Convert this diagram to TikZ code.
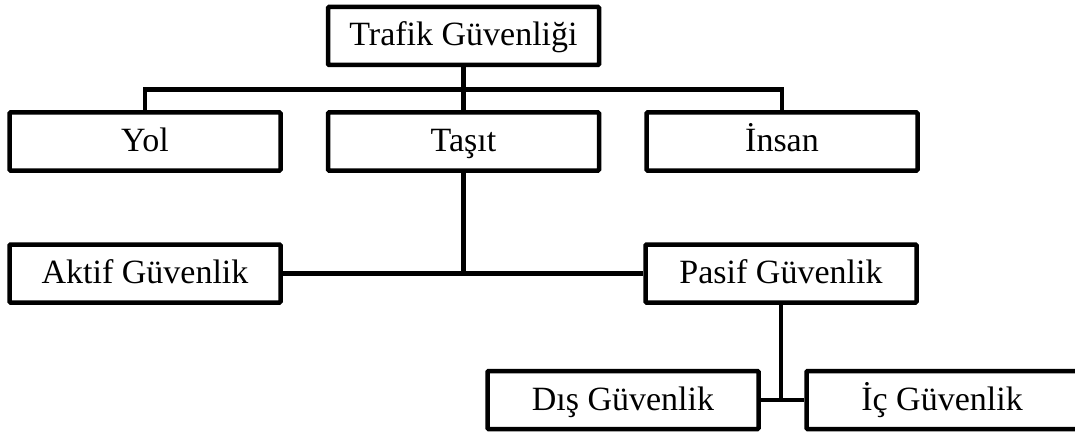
\documentclass[tikz,border=0pt]{standalone}
\usepackage{fontspec}
\setmainfont{Liberation Serif}
\usepackage{tikz}

\begin{document}
\begin{tikzpicture}[x=1pt, y=-1pt,
						every node/.style={draw, line width=4.5pt, rounded corners=1pt,
							minimum width=271pt, minimum height=58pt, inner sep=0pt,
							text height=25pt, text depth=5pt,
							font=\fontsize{34}{40}\selectfont},
						every path/.style={line width=4.5pt}]
					\useasboundingbox (0,0) rectangle (1075,433);

					\node (trafik) at (463.5,36) {Trafik Güvenliği};
					\node (yol) at (145,141.5) {Yol};
					\node (tasit) at (463.5,141.5) {Taşıt};
					\node (insan) at (782,141.5) {İnsan};
					\node (aktif) at (145,273.5) {Aktif Güvenlik};
					\node (pasif) at (781,273.5) {Pasif Güvenlik};
					\node (dis) at (623,400) {Dış Güvenlik};
					\node (ic) at (942,400) {İç Güvenlik};

					\coordinate (bus) at (463.5,89.5);

					\draw (trafik) -- (tasit);
					\draw (yol.north) |- (bus) -| (insan.north);
					\draw (tasit) -- (tasit |- aktif);
					\draw (aktif) -- (pasif);
					\draw (pasif) -- (pasif |- dis);
					\draw (dis) -- (ic);
				\end{tikzpicture}
\end{document}
